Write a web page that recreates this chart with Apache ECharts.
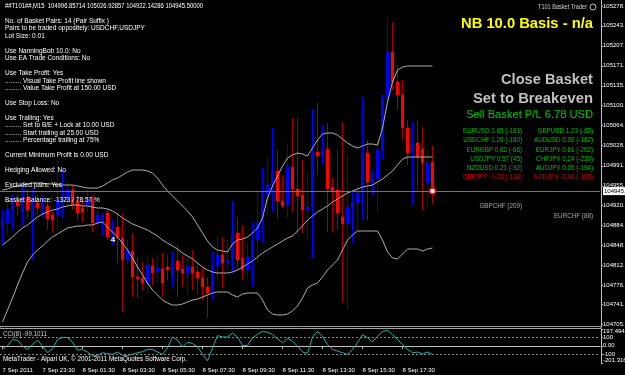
<!DOCTYPE html>
<html><head><meta charset="utf-8">
<script src="https://cdn.jsdelivr.net/npm/echarts@6.0.0/dist/echarts.min.js"></script>
<style>html,body{margin:0;padding:0;background:#000;}#c{width:625px;height:375px;}</style>
</head><body><div id="c"></div>
<script>
// ---- data (M15 bars, 7 Sep 21:30 .. 8 Sep 19:00) ----
const opens = [
104880.9,104888.1,104911.5,104925.9,104907.9,104933.1,104889.9,104924.1,104911.5,104918.7,
104902.5,104902.5,104920.5,104929.5,104947.5,104927.7,104915.1,104920.5,104931.3,104888.1,
104889.9,104906.1,104857.5,104880.9,104861.1,104821.5,104837.7,104790.9,104789.1,104780.1,
104810.7,104799.9,104805.3,104808.9,104790.9,104819.7,104805.3,104798.1,104808.9,104799.9,
104789.1,104772.9,104767.5,104810.7,104830.5,104816.1,104821.5,104870.1,104825.1,104803.5,
104826.9,104857.5,104888.1,104938.5,104956.5,104981.7,104927.7,104920.5,104988.9,104949.3,
104938.5,104911.5,104916.9,105015.9,105008.7,105021.3,104952.9,104947.5,104898.9,104886.3,
104915.1,104924.1,104942.1,105014.1,104960.1,104967.3,105019.5,105113.1,105195.9,105141.9,
105118.5,105059.1,105014.1,105032.1,105021.3,104960.1,104996.85714];
const closes = [
104893.5,104913.3,104925.9,104918.7,104933.1,104911.5,104925.9,104915.1,104924.1,104895.3,
104893.5,104929.5,104938.5,104947.5,104920.5,104906.1,104907.9,104929.5,104888.1,104902.5,
104900.7,104862.9,104880.9,104862.9,104821.5,104839.5,104790.9,104787.3,104780.1,104812.5,
104798.1,104807.1,104780.1,104803.5,104819.7,104803.5,104798.1,104810.7,104798.1,104789.1,
104772.9,104762.1,104812.5,104830.5,104816.1,104819.7,104870.1,104821.5,104803.5,104826.9,
104857.5,104888.1,104942.1,104956.5,104981.7,104927.7,104918.7,104988.9,104949.3,104936.7,
104911.5,104916.9,105015.9,105008.7,105021.3,104949.3,104945.7,104906.1,104886.3,104916.9,
104925.9,104942.1,105014.1,104961.9,104969.1,105019.5,105113.1,105195.9,105141.9,105118.5,
105059.1,105014.1,105033.9,105006.9,104996.1,104996.1,104945.5];
const lows = [
104848.5,104866.5,104875.5,104902.5,104884.5,104897.1,104821.5,104902.5,104897.1,104875.5,
104871.9,104875.5,104897.1,104920.5,104911.5,104893.5,104889.9,104907.9,104871.9,104879.1,
104864.7,104857.5,104848.5,104816.1,104727.9,104812.5,104754.9,104753.1,104767.5,104762.1,
104776.5,104780.1,104754.9,104785.5,104772.9,104754.9,104772.9,104758.5,104767.5,104758.5,
104749.5,104717.1,104749.5,104781.9,104771.1,104803.5,104798.1,104803.5,104785.5,104790.9,
104772.9,104816.1,104852.1,104898.9,104907.9,104897.1,104915.1,104897.1,104907.9,104866.5,
104870.1,104853.9,104825.1,104974.5,104992.5,104871.9,104871.9,104875.5,104744.1,104731.5,
104852.1,104875.5,104893.5,104893.5,104938.5,104907.9,105001.5,105100.5,105127.5,105091.5,
105037.5,104992.5,104920.5,104947.5,104911.5,104916.9,104922.14286];
const highs = [
104911.5,104929.5,104938.5,104938.5,104956.5,104947.5,104947.5,104938.5,104938.5,104929.5,
104909.7,105001.5,104983.5,104965.5,104956.5,104938.5,104934.9,104947.5,104938.5,104911.5,
104906.1,104915.1,104893.5,104906.1,104906.1,104857.5,104870.1,104826.9,104817.9,104830.5,
104825.1,104830.5,104834.1,104830.5,104835.9,104848.5,104830.5,104825.1,104839.5,104817.9,
104807.1,104790.9,104835.9,104864.7,104862.9,104857.5,104927.7,104898.9,104884.5,104853.9,
104889.9,104943.9,104987.1,105006.9,105059.1,105019.5,104974.5,105028.5,105077.1,105077.1,
105001.5,104978.1,105093.3,105104.1,105064.5,105068.1,104969.1,105019.5,105069.9,105012.3,
104943.9,104956.5,105114.9,105037.5,104983.5,105037.5,105118.5,105258.9,105249.9,105172.5,
105145.5,105073.5,105069.9,105073.5,105060.9,105019.5,105026.92857];
const bbUpper = [
104947.5,104949.3,104952.9,104954.7,104956.5,104958.3,104960.1,104960.1,104960.1,104958.3,
104958.3,104956.5,104956.5,104956.5,104956.5,104954.7,104952.9,104951.1,104951.1,104951.1,
104954.7,104960.1,104965.5,104969.1,104974.5,104979.9,104983.5,104983.5,104983.5,104981.7,
104978.1,104969.1,104956.5,104945.7,104936.7,104927.7,104918.7,104909.7,104898.9,104884.5,
104870.1,104855.7,104844.9,104839.5,104837.7,104835.9,104850.3,104857.5,104859.3,104862.9,
104870.1,104879.1,104897.1,104933.1,104954.7,104972.7,104990.7,105005.1,105010.5,105014.1,
105012.3,105008.7,105023.1,105037.5,105048.3,105050.1,105050.1,105046.5,105039.3,105032.1,
105026.7,105023.1,105026.7,105030.3,105030.3,105028.5,105059.1,105105.9,105141.9,105163.5,
105168.9,105170.7,105170.7,105170.7,105170.7,105170.7,105170.7];
const bbMiddle = [
104848.5,104855.7,104862.9,104871.9,104879.1,104884.5,104891.7,104898.9,104904.3,104907.9,
104911.5,104913.3,104916.9,104918.7,104920.5,104920.5,104918.7,104918.7,104916.9,104915.1,
104915.1,104913.3,104909.7,104904.3,104897.1,104891.7,104886.3,104882.7,104879.1,104875.5,
104870.1,104864.7,104857.5,104852.1,104846.7,104841.3,104834.1,104828.7,104823.3,104816.1,
104808.9,104803.5,104799.9,104798.1,104798.1,104798.1,104799.9,104803.5,104808.9,104814.3,
104819.7,104826.9,104834.1,104839.5,104844.9,104850.3,104855.7,104861.1,104864.7,104873.7,
104882.7,104893.5,104900.7,104907.9,104913.3,104918.7,104925.9,104931.3,104936.7,104942.1,
104945.7,104949.3,104952.9,104954.7,104956.5,104961.9,104967.3,104974.5,104981.7,104992.5,
105003.3,105006.9,105006.9,105006.9,105006.9,105006.9,105006.9];
const bbLower = [
104709.9,104731.5,104753.1,104776.5,104798.1,104817.9,104830.5,104839.5,104846.7,104855.7,
104862.9,104868.3,104873.7,104879.1,104880.9,104882.7,104882.7,104884.5,104884.5,104888.1,
104889.9,104880.9,104871.9,104862.9,104852.1,104839.5,104825.1,104808.9,104794.5,104780.1,
104767.5,104758.5,104749.5,104744.1,104740.5,104740.5,104742.3,104745.9,104749.5,104751.3,
104754.9,104758.5,104762.1,104763.9,104763.9,104763.9,104758.5,104754.9,104760.3,104762.1,
104762.1,104762.1,104749.5,104731.5,104724.3,104722.5,104722.5,104724.3,104729.7,104738.7,
104753.1,104771.1,104776.5,104780.1,104790.9,104803.5,104812.5,104821.5,104839.5,104857.5,
104866.5,104873.7,104873.7,104873.7,104873.7,104873.7,104857.5,104835.9,104825.1,104823.3,
104832.3,104841.3,104841.3,104841.3,104837.7,104841.3,104843.1];
const cciValues = [
-42,4,73,66,-4,-42,16,66,-4,-81,
-34,73,100,97,43,-50,-42,-73,-119,-112,
-81,-92,-100,-73,-112,-112,-100,-81,-69,-42,
-42,-73,-100,-23,104,66,-11,43,27,-11,
-100,-177,-23,120,104,104,150,104,4,4,
93,135,170,158,135,81,35,89,54,-4,
-73,-88,104,170,112,16,-42,-61,-81,-100,
-42,35,131,93,46,112,170,181,131,73,
16,-42,-81,-73,-92,-73,-99.1011];
const priceTicks = [105278,105243,105207,105171,105135,105100,105064,105028,104991,104955,104920,104884,104848,104812,104776,104741,104705];
const timeTickLabels = ['7 Sep 2011','7 Sep 23:30','8 Sep 01:30','8 Sep 03:30','8 Sep 05:30','8 Sep 07:30','8 Sep 09:30','8 Sep 11:30','8 Sep 13:30','8 Sep 15:30','8 Sep 17:30'];
const cciTickValues = [197.4944,100,0,-100,-201.316];
const cciTickLabels = ['197.4944','100','0.00','-100','-201.316'];
const cciLevels = [100,-100];
const lastPrice = 104945.5;
const pairRows = [
 ['EURUSD 1.85 (-181)','GBPUSD 1.23 (-85)',0],
 ['USDCHF 1.20 (-180)','AUDUSD 0.92 (-182)',0],
 ['EURGBP 0.62 (-66)','EURJPY 0.61 (-202)',0],
 ['USDJPY 0.57 (45)','CHFJPY 0.24 (-230)',0],
 ['NZDUSD 0.21 (-92)','AUDJPY 0.05 (-194)',0],
 ['GBPJPY -0.23 (-138)','NZDJPY -0.48 (-105)',1]];
const infoLines = [
 'No. of Basket Pairs: 14 (Pair Suffix )','Pairs to be traded oppositely: USDCHF,USDJPY','Lot Size: 0.01',null,
 'Use NanningBob 10.0: No','Use EA Trade Conditions: No',null,
 'Use Take Profit: Yes','......... Visual Take Profit line shown','......... Value Take Profit at 150.00 USD',null,
 'Use Stop Loss: No',null,
 'Use Trailing: Yes','......... Set to B/E + Lock at 10.00 USD','......... Start trailing at 25.00 USD','......... Percentage trailing at 75%',null,
 'Current Minimum Profit is 0.00 USD',null,'Hedging Allowed: No',null,'Excluded pairs: Yes',null,'Basket Balance: -1323 / 78.57 %'];

// ---- chart ----
const FF = '"Liberation Sans Narrow","Liberation Sans",Arial,sans-serif';
const FB = '"Liberation Sans",Arial,sans-serif';
const mctx = document.createElement('canvas').getContext('2d');
function measure(t, font){ mctx.font = font; return mctx.measureText(t).width; }
function txt(t, x, y, font, fill, align, scale){
  return {type:'text', x:x, y:y, scaleX:scale||1, silent:true, z:100,
    style:{text:t, font:font, fill:fill, align:align||'left', verticalAlign:'middle'}};
}
function fit(t, x, y, font, fill, align, w){ return txt(t, x, y, font, fill, align, w/measure(t, font)); }

const N = 120;
const cats = Array.from({length:N}, (_, i) => String(i));
const wickData = opens.map((o,i)=>[o, closes[i], lows[i], highs[i]]);
const bodyData = opens.map((o,i)=>[o, closes[i], Math.min(o,closes[i]), Math.max(o,closes[i])]);
const isTick = i => i % 8 === 0 && i / 8 < timeTickLabels.length;

const f7 = '7px ' + FF;
const f8 = '8px ' + FF;
const els = [];
const header = '##T101##,M15  104996.85714 105026.92857 104922.14286 104945.50000';
els.push(fit(header, 5, 6, f7, '#ffffff', 'left', 198));
const infoScale = 104 / measure(infoLines[0], f7);
let yy = 21;
infoLines.forEach(l => { if (l) els.push(txt(l, 5, yy, f7, '#ffffff', 'left', infoScale)); yy += 7.45; });
els.push(fit('T101 Basket Trader', 587, 7, f7, '#d0d0d0', 'right', 49));
els.push({type:'circle', shape:{cx:593, cy:7, r:3}, style:{fill:'none', stroke:'#c0c0c0', lineWidth:1}, silent:true, z:100});
els.push(fit('NB 10.0 Basis - n/a', 593, 24, 'bold 15px ' + FB, '#ffff00', 'right', 132));
els.push(fit('Close Basket', 593, 80, 'bold 15px ' + FB, '#c0c0c0', 'right', 92));
els.push(fit('Set to Breakeven', 593, 99, 'bold 15px ' + FB, '#c0c0c0', 'right', 120));
els.push(fit('Sell Basket P/L 6.78 USD', 593, 115, '11px ' + FB, '#00c800', 'right', 127));
const pairScale = 59 / measure('EURUSD 1.85 (-181)', f8);
const rowY = [131,140,149.5,159,168,177];
pairRows.forEach((r, k) => {
  const col = r[2] ? '#d00000' : '#00c000';
  els.push(txt(r[0], 522, rowY[k], f8, col, 'right', pairScale));
  els.push(txt(r[1], 593, rowY[k], f8, col, 'right', pairScale));
});
els.push(txt('GBPCHF (209)', 522, 206, f8, '#a8a8a8', 'right', pairScale));
els.push(txt('EURCHF (88)', 593, 216, f8, '#a8a8a8', 'right', pairScale));
els.push(txt('4', 113, 240, 'bold 8px ' + FB, '#ffffff', 'center', 1));
els.push(fit('CCI(8) -99.1011', 3, 334, f7, '#d0d0d0', 'left', 44));
els.push(fit('MetaTrader - Alpari UK, \u00a9 2001-2011 MetaQuotes Software Corp.', 3, 359, f7, '#ffffff', 'left', 184));
els.push({type:'rect', shape:{x:0, y:326.5, width:601, height:2}, style:{fill:'none', stroke:'#a0a0a0', lineWidth:1}, silent:true, z:50});

const chart = echarts.init(document.getElementById('c'), null, {renderer:'canvas', width:625, height:375});
chart.setOption({
  animation:false,
  backgroundColor:'#000000',
  grid:[{left:0, top:0, width:600, height:327, outerBoundsMode:'none', containLabel:false},
        {left:0, top:329, width:600, height:34, outerBoundsMode:'none', containLabel:false}],
  xAxis:[
    {type:'category', gridIndex:0, data:cats, boundaryGap:true, axisLine:{show:false}, axisTick:{show:false}, axisLabel:{show:false}, splitLine:{show:false}},
    {type:'category', gridIndex:1, data:cats, boundaryGap:true,
     axisLine:{show:true, lineStyle:{color:'#c0c0c0', width:1}},
     axisTick:{show:true, interval:(i)=>isTick(i), alignWithLabel:true, length:3, lineStyle:{color:'#c0c0c0'}},
     axisLabel:{show:true, interval:(i)=>isTick(i), formatter:(v,i)=>timeTickLabels[i/8], align:'left', margin:4, color:'#ffffff', fontSize:6, fontFamily:FF, hideOverlap:false},
     splitLine:{show:false}}
  ],
  yAxis:[
    {type:'value', gridIndex:0, position:'right', offset:1, min:104700.9, max:105289.5,
     axisLine:{show:true, lineStyle:{color:'#c0c0c0'}},
     axisTick:{show:true, customValues:priceTicks, length:2, lineStyle:{color:'#c0c0c0'}},
     axisLabel:{customValues:priceTicks, formatter:v=>Math.round(v)+'.', color:'#ffffff', fontSize:6, fontFamily:FF, margin:2, hideOverlap:false},
     splitLine:{show:false}},
    {type:'value', gridIndex:1, position:'right', offset:1, min:-201.316, max:197.4944,
     axisLine:{show:true, lineStyle:{color:'#c0c0c0'}},
     axisTick:{show:true, customValues:cciTickValues, length:2, lineStyle:{color:'#c0c0c0'}},
     axisLabel:{customValues:cciTickValues, showMinLabel:true, showMaxLabel:true, hideOverlap:false, color:'#ffffff', fontSize:6, fontFamily:FF, margin:2,
       formatter:v=>{let k=-1; cciTickValues.forEach((c,j)=>{ if (Math.abs(c-v)<0.01) k=j; }); const s=k>=0?cciTickLabels[k]:String(v); return k===0?'{t|'+s+'}':(k===4?'{b|'+s+'}':s);},
       rich:{t:{padding:[5,0,0,0], fontSize:6, color:'#fff', fontFamily:FF}, b:{padding:[0,0,5,0], fontSize:6, color:'#fff', fontFamily:FF}}},
     splitLine:{show:false}}
  ],
  series:[
    {type:'candlestick', name:'wick', xAxisIndex:0, yAxisIndex:0, data:wickData, barWidth:1, z:2, silent:true,
     itemStyle:{color:'#0000ff', color0:'#a00000', borderColor:'#0000ff', borderColor0:'#a00000', borderWidth:1},
     markLine:{silent:true, symbol:['none','none'], data:[{yAxis:lastPrice}],
       lineStyle:{color:'#6a7878', type:'solid', width:1},
       label:{show:true, position:'end', distance:3, formatter:'104945.', color:'#000', backgroundColor:'#fff', fontSize:6, fontFamily:FF, padding:[1,2,1,1]}}},
    {type:'candlestick', name:'body', xAxisIndex:0, yAxisIndex:0, data:bodyData, barWidth:3, z:3, silent:true,
     itemStyle:{color:'#0000ff', color0:'#ff0000', borderColor:'#0000ff', borderColor0:'#ff0000', borderWidth:1},
     markPoint:{silent:true, data:[{coord:['86', lastPrice], symbol:'circle', symbolSize:6, itemStyle:{color:'#ffffff', borderColor:'#ff0000', borderWidth:1.5}, label:{show:false}}]}},
    {type:'line', name:'upper', xAxisIndex:0, yAxisIndex:0, data:bbUpper, showSymbol:false, z:4, silent:true, lineStyle:{color:'#b0b0b0', width:1}},
    {type:'line', name:'middle', xAxisIndex:0, yAxisIndex:0, data:bbMiddle, showSymbol:false, z:4, silent:true, lineStyle:{color:'#b0b0b0', width:1}},
    {type:'line', name:'lower', xAxisIndex:0, yAxisIndex:0, data:bbLower, showSymbol:false, z:4, silent:true, lineStyle:{color:'#b0b0b0', width:1}},
    {type:'line', name:'CCI', xAxisIndex:1, yAxisIndex:1, data:cciValues, showSymbol:false, z:4, silent:true, lineStyle:{color:'#20b2aa', width:1},
     markLine:{silent:true, symbol:['none','none'], data:cciLevels.map(v=>({yAxis:v})), lineStyle:{color:'#8a8a8a', type:[2,2], width:1}, label:{show:false}}}
  ],
  graphic:{elements:els}
});
</script></body></html>
